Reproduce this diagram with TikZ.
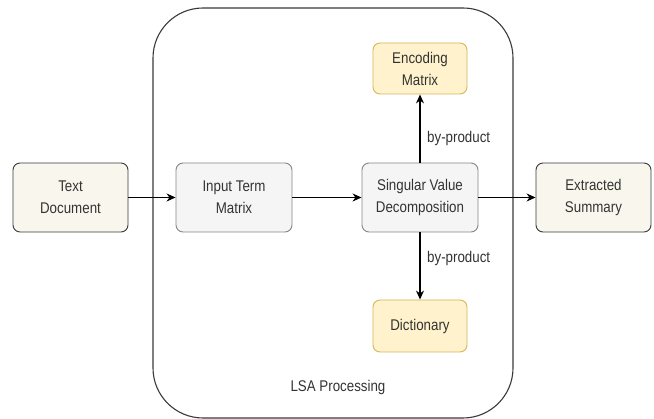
\documentclass[tikz,border=0pt]{standalone}
\usepackage{fontspec}
\setmainfont{Liberation Sans}[FakeStretch=0.86]
\usetikzlibrary{arrows.meta}
\definecolor{darkstroke}{HTML}{36393D}
\definecolor{creamfill}{HTML}{F9F7ED}
\definecolor{grayfill}{HTML}{F5F5F5}
\definecolor{graystroke}{HTML}{666666}
\definecolor{yellowfill}{HTML}{FFF2CC}
\definecolor{yellowstroke}{HTML}{D6B656}
\definecolor{txt}{HTML}{333333}
\begin{document}
\begin{tikzpicture}[x=1pt,y=-1pt,
  every node/.style={font=\fontsize{15.5}{22}\selectfont, text=txt},
  box/.style={rounded corners=7pt, line width=0.9pt, align=center, inner sep=0pt},
  creambox/.style={box, draw=darkstroke, fill=creamfill},
  graybox/.style={box, draw=graystroke!80, fill=grayfill},
  yellowbox/.style={box, draw=yellowstroke, fill=yellowfill},
  conn/.style={line width=1.2pt, -{Stealth[length=9pt,width=8pt]}},
  lbl/.style={anchor=west, inner sep=0pt}
]
\useasboundingbox (0,0) rectangle (654,419);
% container
\node[draw=darkstroke, line width=1.1pt, rounded corners=50pt, minimum width=360pt, minimum height=410pt, inner sep=0pt] (lsa) at (333,213) {};
\node (lsalabel) at (338,387) {LSA Processing};
% boxes
\node[creambox, minimum width=115pt, minimum height=69pt] (doc) at (70.5,197.5) {Text\\Document};
\node[graybox, minimum width=116pt, minimum height=69pt] (itm) at (234,197.5) {Input Term\\Matrix};
\node[graybox, minimum width=116pt, minimum height=69pt] (svd) at (420,197.5) {Singular Value\\Decomposition};
\node[creambox, minimum width=115pt, minimum height=69pt] (sum) at (593.5,197.5) {Extracted\\Summary};
\node[yellowbox, minimum width=94pt, minimum height=51pt] (enc) at (420,68.5) {Encoding\\Matrix};
\node[yellowbox, minimum width=94pt, minimum height=52pt] (dict) at (420,326) {Dictionary};
% connectors
\draw[conn] (doc) -- (itm);
\draw[conn] (itm) -- (svd);
\draw[conn] (svd) -- (sum);
\draw[conn] (svd) -- (enc);
\draw[conn] (svd) -- (dict);
% labels
\node[lbl] (bp1) at (427,138) {by-product};
\node[lbl] (bp2) at (427,258) {by-product};
\end{tikzpicture}
\end{document}
